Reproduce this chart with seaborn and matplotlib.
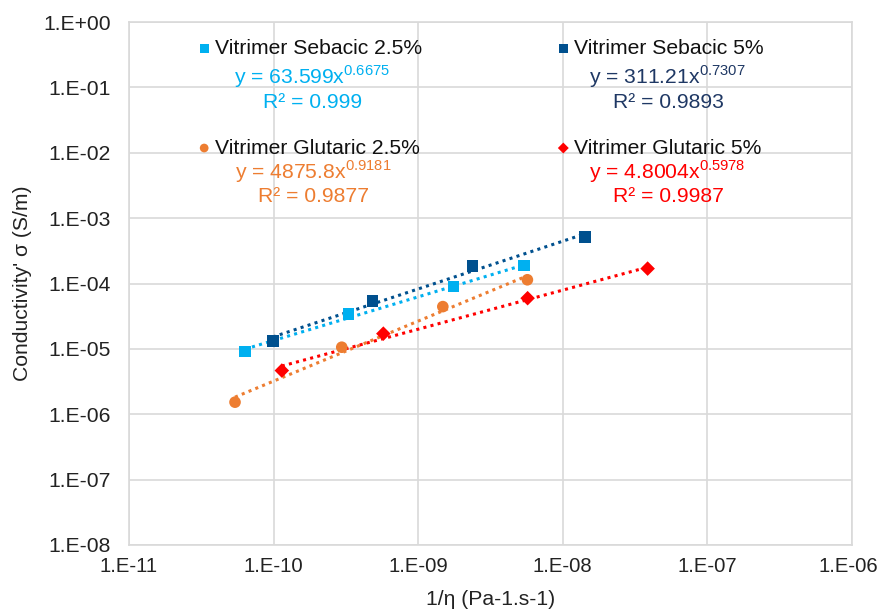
import numpy as np
import pandas as pd
import seaborn as sns
import matplotlib
matplotlib.use("Agg")
import matplotlib.pyplot as plt
from matplotlib.transforms import ScaledTranslation

# data (1/eta in Pa-1.s-1, conductivity in S/m)
seb25_x = [6.34e-11, 3.29e-10, 1.75e-9, 5.40e-9]
seb25_y = [9.1e-6, 3.40e-5, 8.97e-5, 1.88e-4]
seb5_x = [9.87e-11, 4.84e-10, 2.38e-9, 1.43e-8]
seb5_y = [1.32e-5, 5.36e-5, 1.84e-4, 5.1e-4]
glu25_x = [5.41e-11, 2.96e-10, 1.48e-9, 5.69e-9]
glu25_y = [1.53e-6, 1.06e-5, 4.43e-5, 1.14e-4]
glu5_x = [1.14e-10, 5.74e-10, 5.71e-9, 3.86e-8]
glu5_y = [4.66e-6, 1.71e-5, 5.96e-5, 1.69e-4]

series_names = ["Vitrimer Sebacic 2.5%", "Vitrimer Sebacic 5%",
                "Vitrimer Glutaric 2.5%", "Vitrimer Glutaric 5%"]
# power-law trendlines y = a * x^b
fit_a = [63.599, 311.21, 4875.8, 4.8004]
fit_b = [0.6675, 0.7307, 0.9181, 0.5978]
fit_a_txt = ["63.599", "311.21", "4875.8", "4.8004"]
fit_b_txt = ["0.6675", "0.7307", "0.9181", "0.5978"]
r2_txt = ["0.999", "0.9893", "0.9877", "0.9987"]

xticks = [1e-11, 1e-10, 1e-9, 1e-8, 1e-7, 1e-6]
yticks = [1e0, 1e-1, 1e-2, 1e-3, 1e-4, 1e-5, 1e-6, 1e-7, 1e-8]

colors = ["#00B0F0", "#00508E", "#ED7D31", "#FF0000"]
text_colors = ["#00B0F0", "#1F3864", "#ED7D31", "#FF0000"]
markers = ["s", "s", "o", "D"]
msizes = [70, 70, 70, 55]
FS = 15.2

sns.set_style("white")
plt.rcParams["font.family"] = ["Liberation Sans", "DejaVu Sans"]
plt.rcParams["mathtext.fontset"] = "custom"
plt.rcParams["mathtext.rm"] = "Liberation Sans"

xs = [seb25_x, seb5_x, glu25_x, glu5_x]
ys = [seb25_y, seb5_y, glu25_y, glu5_y]
df = pd.concat([pd.DataFrame({"x": x, "y": y, "series": n})
                for x, y, n in zip(xs, ys, series_names)], ignore_index=True)

fig = plt.figure(figsize=(8.8, 6.12), dpi=100)
ax = fig.add_axes([129 / 880, 1 - 545 / 612, 723 / 880, 523 / 612])
ax.set_xscale("log")
ax.set_yscale("log")

for i, name in enumerate(series_names):
    sub = df[df.series == name]
    # trendline over the data range
    xt = np.logspace(np.log10(sub.x.min()), np.log10(sub.x.max()), 50)
    yt = fit_a[i] * xt ** fit_b[i]
    ax.plot(xt, yt, linestyle=(0, (1, 1.4)), color=colors[i], lw=2.2, zorder=2)
    sns.scatterplot(data=sub, x="x", y="y", marker=markers[i], color=colors[i],
                    s=msizes[i], edgecolor="none", ax=ax, zorder=3,
                    label=name, legend=False)


def sci(v):
    e = int(round(np.log10(v)))
    return "1.E%s%02d" % ("+" if e >= 0 else "-", abs(e))


ax.set_xlim(1e-11, 1e-6)
ax.set_ylim(1e-8, 1e0)
ax.set_xticks(xticks)
ax.set_yticks(yticks)
ax.set_xticklabels([sci(v) for v in xticks])
ax.set_yticklabels([sci(v) for v in yticks])
ax.minorticks_off()
ax.tick_params(axis="both", length=0, labelcolor="#222222")
ax.tick_params(axis="y", pad=13, labelsize=FS)
ax.tick_params(axis="x", pad=9, labelsize=14.6)
# nudge the last x label so it stays inside the figure
last = ax.get_xticklabels()[-1]
last.set_transform(last.get_transform() + ScaledTranslation(-0.04, 0, fig.dpi_scale_trans))
ax.grid(True, color="#D9D9D9", lw=1.2)
ax.set_axisbelow(True)
for sp in ax.spines.values():
    sp.set_color("#D9D9D9")
    sp.set_linewidth(1.2)

ax.set_xlabel("1/η (Pa-1.s-1)", fontsize=FS, color="#222222", labelpad=10)
ax.set_ylabel("Conductivity' σ (S/m)", fontsize=FS, color="#222222", labelpad=8)

# legend, 2 x 2 with room for the trendline equations
handles, labels = ax.get_legend_handles_labels()
order = [0, 2, 1, 3]
leg = ax.legend([handles[k] for k in order], [labels[k] for k in order],
                ncol=2, loc="upper left", bbox_to_anchor=(0.085, 0.983),
                frameon=False, fontsize=FS, handlelength=0.5,
                handletextpad=0.25, columnspacing=6.45, labelspacing=3.8,
                markerscale=0.75, borderaxespad=0)
for t in leg.get_texts():
    t.set_color("#111111")


def fx(px):
    return (px - 129) / 723


def fy(py):
    return 1 - (py - 22) / 523


eq_pos = [(312, 77), (667, 77), (313, 172), (667, 172)]
for i in range(4):
    px, py = eq_pos[i]
    ax.text(fx(px), fy(py), "y = %sx$^{\\mathrm{%s}}$" % (fit_a_txt[i], fit_b_txt[i]),
            transform=ax.transAxes, ha="center", va="center",
            fontsize=FS, color=text_colors[i])
    ax.text(fx(px + 1), fy(py + 25), "R² = %s" % r2_txt[i],
            transform=ax.transAxes, ha="center", va="center",
            fontsize=FS, color=text_colors[i])

fig.savefig("out.png", dpi=100)
